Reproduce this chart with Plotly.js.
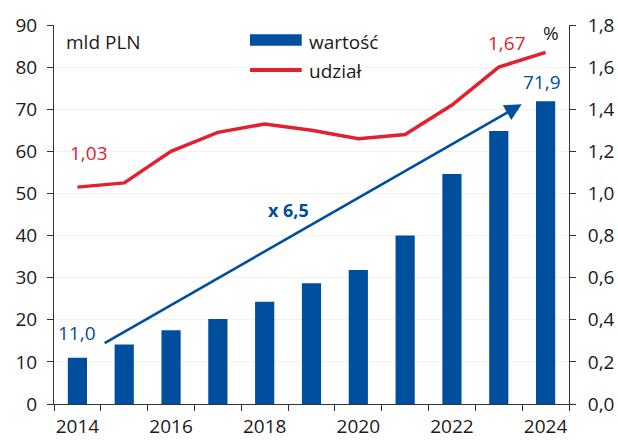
<!DOCTYPE html>
<html>
<head>
<meta charset="utf-8">
<script src="https://cdn.plot.ly/plotly-3.0.1.min.js"></script>
<style>html,body{margin:0;padding:0;background:#fff;}#chart{width:618px;height:440px;}</style>
</head>
<body>
<div id="chart"></div>
<script>
const years = [2014, 2015, 2016, 2017, 2018, 2019, 2020, 2021, 2022, 2023, 2024];
const wartosc = [11.0, 14.1, 17.5, 20.2, 24.3, 28.7, 31.8, 40.0, 54.6, 64.8, 71.9];
const udzial = [1.03, 1.05, 1.20, 1.29, 1.33, 1.30, 1.26, 1.28, 1.42, 1.60, 1.67];
const yearLabels = ['2014', '2016', '2018', '2020', '2022', '2024'];
const seriesNames = ['wartość', 'udział'];
const leftTicks = [0, 10, 20, 30, 40, 50, 60, 70, 80, 90];
const rightTicks = [0, 0.2, 0.4, 0.6, 0.8, 1.0, 1.2, 1.4, 1.6, 1.8];
const growthLabel = 'x 6,5';
const unitLeft = 'mld PLN';
const unitRight = '%';

const BLUE = '#004f9e';
const RED = '#e3202d';
const FONT = 'Open Sans';
const fmt1 = v => v.toFixed(1).replace('.', ',');
const fmt2 = v => v.toFixed(2).replace('.', ',');

const boundaries = years.map(y => y - 0.5).concat([years[years.length - 1] + 0.5]);
const n = years.length;

const traces = [
  {type: 'bar', x: years, y: wartosc, name: seriesNames[0], marker: {color: BLUE}, width: 0.41, xaxis: 'x', yaxis: 'y', hoverinfo: 'none'},
  {type: 'scatter', mode: 'lines', x: years, y: udzial, name: seriesNames[1], line: {color: RED, width: 3.5}, xaxis: 'x', yaxis: 'y2', hoverinfo: 'none'},
  {type: 'scatter', mode: 'markers', x: boundaries, y: boundaries.map(() => 0), marker: {opacity: 0}, xaxis: 'x2', yaxis: 'y', hoverinfo: 'none', showlegend: false}
];

const xr = [boundaries[0], boundaries[boundaries.length - 1]];
const arrowStart = {x: years[0] + 0.55, y: wartosc[0] + 3.25};
const arrowEnd = {x: years[n - 1] - 0.51, y: wartosc[n - 1] - 0.7};

const layout = {
  width: 618, height: 440,
  margin: {l: 54, r: 49, t: 25, b: 36},
  paper_bgcolor: '#fff', plot_bgcolor: '#fff',
  showlegend: false,
  separators: ', ',
  font: {family: FONT, size: 19, color: '#1a1a1a'},
  bargap: 0.59,
  xaxis: {
    range: xr, tickmode: 'array', tickvals: yearLabels.map(Number), ticktext: yearLabels,
    ticks: '', showgrid: false, zeroline: false, showline: true, linecolor: '#333', linewidth: 1,
    ticklabelstandoff: 5,
    tickfont: {family: FONT, size: 19, color: '#1a1a1a'}, fixedrange: true
  },
  xaxis2: {
    range: xr, overlaying: 'x', anchor: 'y', tickmode: 'array', tickvals: boundaries,
    ticks: 'outside', ticklen: 6, tickcolor: '#333', tickwidth: 1, showticklabels: false,
    showgrid: false, zeroline: false, showline: false
  },
  yaxis: {
    range: [0, 90], tickmode: 'array', tickvals: leftTicks, ticks: 'outside', ticklen: 6, tickcolor: '#333',
    showline: true, linecolor: '#333', linewidth: 1, zeroline: false,
    showgrid: true, gridcolor: '#f2f2f2', gridwidth: 1, ticklabelstandoff: 6,
    tickfont: {family: FONT, size: 19, color: '#1a1a1a'}
  },
  yaxis2: {
    range: [0, 1.8], overlaying: 'y', side: 'right', tickmode: 'array', tickvals: rightTicks,
    tickformat: '.1f', ticks: 'outside', ticklen: 6, tickcolor: '#333',
    showline: true, linecolor: '#333', linewidth: 1, zeroline: false, showgrid: false, ticklabelstandoff: 8,
    tickfont: {family: FONT, size: 19, color: '#1a1a1a'}
  },
  shapes: [
    {type: 'rect', xref: 'paper', yref: 'paper', x0: 0.3806, x1: 0.481, y0: 0.9454, y1: 0.9755, fillcolor: BLUE, line: {width: 0}},
    {type: 'line', xref: 'paper', yref: 'paper', x0: 0.3806, x1: 0.481, y0: 0.8813, y1: 0.8813, line: {color: RED, width: 4}}
  ],
  annotations: [
    {xref: 'paper', yref: 'paper', x: 0.491, y: 0.955, xanchor: 'left', yanchor: 'middle', text: seriesNames[0], showarrow: false, font: {family: FONT, size: 19, color: '#1a1a1a'}},
    {xref: 'paper', yref: 'paper', x: 0.491, y: 0.879, xanchor: 'left', yanchor: 'middle', text: seriesNames[1], showarrow: false, font: {family: FONT, size: 19, color: '#1a1a1a'}},
    {xref: 'paper', yref: 'paper', x: 0.019, y: 0.955, xanchor: 'left', yanchor: 'middle', text: unitLeft, showarrow: false, font: {family: FONT, size: 19, color: '#1a1a1a'}},
    {xref: 'paper', yref: 'paper', x: 0.965, y: 0.979, xanchor: 'center', yanchor: 'middle', text: unitRight, showarrow: false, font: {family: FONT, size: 19, color: '#1a1a1a'}},
    {xref: 'x', yref: 'y', x: years[0], y: wartosc[0], xanchor: 'center', yanchor: 'middle', yshift: 25, text: fmt1(wartosc[0]), showarrow: false, font: {family: FONT, size: 19, color: BLUE}},
    {xref: 'x', yref: 'y', x: years[n - 1], y: wartosc[n - 1], xanchor: 'center', yanchor: 'middle', yshift: 19, xshift: -4, text: fmt1(wartosc[n - 1]), showarrow: false, font: {family: FONT, size: 19, color: BLUE}},
    {xref: 'x', yref: 'y2', x: years[0], y: udzial[0], xanchor: 'center', yanchor: 'middle', yshift: 34, xshift: 12, text: fmt2(udzial[0]), showarrow: false, font: {family: FONT, size: 19, color: RED}},
    {xref: 'x', yref: 'y2', x: years[n - 1], y: udzial[n - 1], xanchor: 'center', yanchor: 'middle', yshift: 9, xshift: -39, text: fmt2(udzial[n - 1]), showarrow: false, font: {family: FONT, size: 19, color: RED}},
    {xref: 'x', yref: 'y', x: 2018.5, y: 46.1, xanchor: 'center', yanchor: 'middle', text: '<b>' + growthLabel + '</b>', showarrow: false, font: {family: FONT, size: 18, color: BLUE}},
    {xref: 'x', yref: 'y', axref: 'x', ayref: 'y', x: arrowEnd.x, y: arrowEnd.y, ax: arrowStart.x, ay: arrowStart.y,
     text: '', showarrow: true, arrowhead: 2, arrowsize: 1.3, arrowwidth: 2.6, arrowcolor: BLUE, standoff: 0, startstandoff: 0}
  ]
};

Plotly.newPlot('chart', traces, layout, {displayModeBar: false, staticPlot: true});
</script>
</body>
</html>
